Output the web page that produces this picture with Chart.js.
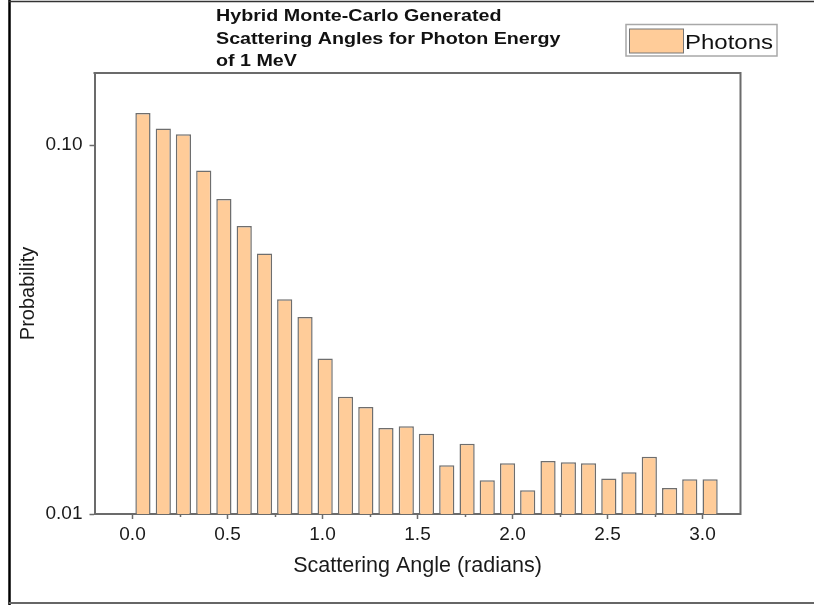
<!DOCTYPE html>
<html><head><meta charset="utf-8">
<script src="https://cdn.jsdelivr.net/npm/chart.js@4.4.1/dist/chart.umd.min.js"></script>
<style>html,body{margin:0;padding:0;background:#fff;}#wrap{width:814px;height:605px;}</style>
</head><body><div id="wrap"><canvas id="c" width="814" height="605"></canvas></div>
<script>
const titleLines = ["Hybrid Monte-Carlo Generated", "Scattering Angles for Photon Energy", "of 1 MeV"];
const seriesName = "Photons";
const xAxisTitle = "Scattering Angle (radians)";
const yAxisTitle = "Probability";

const angles = [0.055, 0.162, 0.268, 0.375, 0.481, 0.588, 0.695, 0.801, 0.908, 1.014,
                1.121, 1.228, 1.334, 1.441, 1.547, 1.654, 1.761, 1.867, 1.974, 2.080,
                2.187, 2.294, 2.400, 2.507, 2.613, 2.720, 2.827, 2.933, 3.040];
const probability = [0.1223, 0.1110, 0.1071, 0.0854, 0.0715, 0.0604, 0.0509, 0.0382, 0.0342, 0.0264,
                     0.0208, 0.0195, 0.0171, 0.0173, 0.0165, 0.01355, 0.0155, 0.01234, 0.01372, 0.01159,
                     0.01392, 0.01381, 0.01372, 0.01249, 0.01297, 0.0143, 0.01176, 0.01242, 0.01242];

const xMajorTicks = [0.0, 0.5, 1.0, 1.5, 2.0, 2.5, 3.0];
const xMinorTicks = [0.25, 0.75, 1.25, 1.75, 2.25, 2.75];
const yTicks = [0.01, 0.1];

const FILL = '#FFCC99';
const EDGE = '#6e6e6e';
const AXIS = '#6b6b6b';

const decor = {
  id: 'decor',
  afterDraw(chart) {
    const ctx = chart.ctx, a = chart.chartArea;
    ctx.save();
    ctx.strokeStyle = AXIS; ctx.lineWidth = 2;
    ctx.beginPath();
    ctx.moveTo(a.left - 1, a.top); ctx.lineTo(a.right, a.top); ctx.lineTo(a.right, a.bottom + 1);
    ctx.stroke();
    const xs = chart.scales.x;
    ctx.lineWidth = 1.5;
    xMinorTicks.forEach(v => {
      const px = Math.round(xs.getPixelForValue(v)) + 0.5;
      ctx.beginPath(); ctx.moveTo(px, a.bottom); ctx.lineTo(px, a.bottom + 3); ctx.stroke();
    });
    ctx.strokeStyle = '#000'; ctx.lineWidth = 2.5;
    ctx.beginPath(); ctx.moveTo(9.5, 0); ctx.lineTo(9.5, 605); ctx.stroke();
    ctx.strokeStyle = '#333'; ctx.lineWidth = 1.5;
    ctx.beginPath(); ctx.moveTo(9, 1.5); ctx.lineTo(814, 1.5); ctx.stroke();
    ctx.strokeStyle = '#666'; ctx.lineWidth = 2;
    ctx.beginPath(); ctx.moveTo(9, 603); ctx.lineTo(814, 603); ctx.stroke();
    ctx.fillStyle = '#111';
    ctx.font = "bold 16px 'Liberation Sans', Arial, sans-serif";
    ctx.textBaseline = 'alphabetic'; ctx.textAlign = 'left';
    titleLines.forEach((t, i) => {
      ctx.save();
      ctx.translate(216, 21 + i * 22.5);
      ctx.scale(1.23, 1);
      ctx.fillText(t, 0, 0);
      ctx.restore();
    });
    const ds = chart.data.datasets[0];
    ctx.strokeStyle = '#a8a8a8'; ctx.lineWidth = 1.5;
    ctx.strokeRect(626, 24.5, 151, 31.5);
    ctx.fillStyle = ds.backgroundColor;
    ctx.fillRect(629.5, 29, 54, 24);
    ctx.strokeStyle = '#777'; ctx.lineWidth = 1;
    ctx.strokeRect(629.5, 29, 54, 24);
    ctx.fillStyle = '#111';
    ctx.font = "20px 'Liberation Sans', Arial, sans-serif";
    ctx.save();
    ctx.translate(685, 48.5);
    ctx.scale(1.2, 1);
    ctx.fillText(ds.label, 0, 0);
    ctx.restore();
    ctx.restore();
  }
};

new Chart(document.getElementById('c'), {
  type: 'bar',
  data: {
    datasets: [{
      label: seriesName,
      data: angles.map((x, i) => ({x: x, y: probability[i]})),
      backgroundColor: FILL,
      borderColor: EDGE,
      borderWidth: 1.5,
      borderSkipped: 'start',
      categoryPercentage: 1.0,
      barPercentage: 0.755
    }]
  },
  options: {
    responsive: false,
    animation: false,
    devicePixelRatio: 1,
    layout: {padding: {left: 16.7, right: 73.5, top: 73, bottom: 26.4}},
    plugins: {legend: {display: false}, tooltip: {enabled: false}, title: {display: false}},
    scales: {
      x: {
        type: 'linear',
        offset: false,
        min: -0.2, max: 3.2,
        afterFit(s) { s.height = 64.6; },
        afterBuildTicks(s) { s.ticks = xMajorTicks.map(v => ({value: v})); },
        grid: {display: true, offset: false, drawOnChartArea: false, drawTicks: true, tickLength: 5, tickWidth: 1.5, tickColor: AXIS},
        border: {display: true, color: AXIS, width: 2},
        ticks: {
          color: '#1a1a1a', padding: 4, maxRotation: 0, autoSkip: false,
          font: {family: "'Liberation Sans', Arial, sans-serif", size: 19},
          callback: v => Number(v).toFixed(1)
        },
        title: {display: true, text: xAxisTitle, color: '#1a1a1a',
                font: {family: "'Liberation Sans', Arial, sans-serif", size: 21.5}, padding: 0}
      },
      y: {
        type: 'logarithmic',
        min: 0.01, max: 0.157,
        afterFit(s) { s.width = 77.8; },
        afterBuildTicks(s) { s.ticks = yTicks.map(v => ({value: v})); },
        grid: {display: true, drawOnChartArea: false, drawTicks: true, tickLength: 5, tickWidth: 1.5, tickColor: AXIS},
        border: {display: true, color: AXIS, width: 2},
        ticks: {
          color: '#1a1a1a', padding: 7, autoSkip: false,
          font: {family: "'Liberation Sans', Arial, sans-serif", size: 19},
          callback: v => Number(v).toFixed(2)
        },
        title: {display: true, text: yAxisTitle, color: '#1a1a1a',
                font: {family: "'Liberation Sans', Arial, sans-serif", size: 20}, padding: 0}
      }
    }
  },
  plugins: [decor]
});
</script>
</body></html>
